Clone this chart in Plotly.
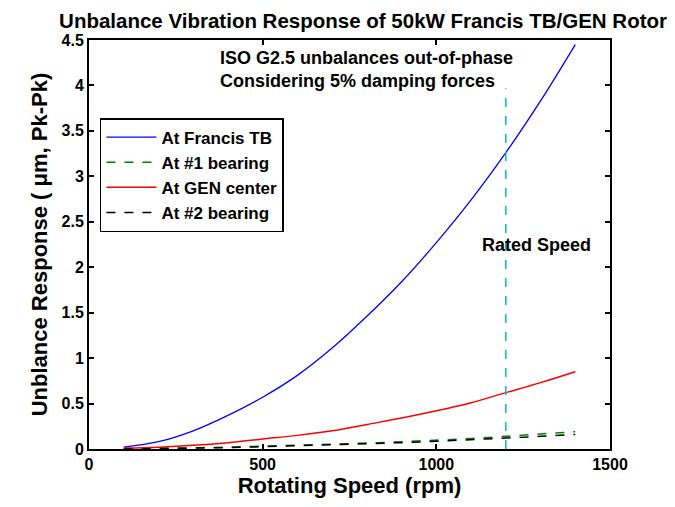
import plotly.graph_objects as go

rpm = [100, 200, 300, 400, 500, 600, 700, 800, 900, 1000, 1100, 1200, 1300, 1400]
francis_tb = [0.02, 0.08, 0.20, 0.37, 0.57, 0.81, 1.11, 1.46, 1.84, 2.27, 2.74, 3.26, 3.83, 4.45]
bearing1 = [0.00, 0.005, 0.01, 0.02, 0.03, 0.04, 0.05, 0.065, 0.08, 0.095, 0.115, 0.14, 0.165, 0.19]
gen_center = [0.01, 0.02, 0.04, 0.07, 0.11, 0.15, 0.20, 0.27, 0.34, 0.42, 0.51, 0.62, 0.73, 0.85]
bearing2 = [0.00, 0.004, 0.008, 0.015, 0.025, 0.035, 0.045, 0.057, 0.07, 0.085, 0.10, 0.12, 0.14, 0.16]

rated_speed = 1200
rated_line_y = [0, 3.97]

FONT = "Liberation Sans, Arial, sans-serif"

fig = go.Figure()
fig.add_trace(go.Scatter(x=rpm, y=francis_tb, mode="lines", name="At Francis TB",
                         line=dict(color="#0000ff", width=1.3, shape="spline")))
fig.add_trace(go.Scatter(x=rpm, y=bearing1, mode="lines", name="At #1 bearing",
                         line=dict(color="#008000", width=1.5, dash="dash")))
fig.add_trace(go.Scatter(x=rpm, y=gen_center, mode="lines", name="At GEN center",
                         line=dict(color="#ff0000", width=1.5, shape="spline")))
fig.add_trace(go.Scatter(x=rpm, y=bearing2, mode="lines", name="At #2 bearing",
                         line=dict(color="#000000", width=1.5, dash="dash")))
fig.add_trace(go.Scatter(x=[rated_speed, rated_speed], y=rated_line_y, mode="lines",
                         showlegend=False, line=dict(color="#00bfbf", width=1.5, dash="dash")))

axis_common = dict(showgrid=False, zeroline=False, showline=True, linecolor="black",
                   linewidth=2, mirror="ticks", ticks="inside", ticklen=5, tickwidth=1.5,
                   tickcolor="black",
                   tickfont=dict(family=FONT, size=16, color="black", weight="bold"))

fig.update_layout(
    width=675, height=507,
    margin=dict(l=81, r=73, t=32, b=66),
    paper_bgcolor="white", plot_bgcolor="white",
    title=dict(text="Unbalance Vibration Response of 50kW Francis TB/GEN Rotor",
               font=dict(family=FONT, size=20.5, color="black", weight="bold"),
               x=0.526, xanchor="center", y=0.974, yanchor="middle"),
    xaxis=dict(range=[0, 1500], tickvals=[0, 500, 1000, 1500],
               title=dict(text="Rotating Speed (rpm)", standoff=4,
                          font=dict(family=FONT, size=22, color="black", weight="bold")),
               **axis_common),
    yaxis=dict(range=[0, 4.5], tickvals=[0, 0.5, 1, 1.5, 2, 2.5, 3, 3.5, 4, 4.5],
               ticktext=["0", "0.5", "1", "1.5", "2", "2.5", "3", "3.5", "4", "4.5"],
               title=dict(text="Unblance Response ( \u03bcm, Pk-Pk)", standoff=8,
                          font=dict(family=FONT, size=22, color="black", weight="bold")),
               **axis_common),
    legend=dict(x=0.021, y=0.809, xanchor="left", yanchor="top",
                bgcolor="white", bordercolor="black", borderwidth=1.5,
                font=dict(family=FONT, size=17, color="black", weight="bold"),
                itemwidth=50),
    showlegend=True,
)

fig.add_annotation(x=371, y=4.43, xref="x", yref="y", xanchor="left", yanchor="top",
                   text="ISO G2.5 unbalances out-of-phase<br>Considering 5% damping forces",
                   showarrow=False, align="left",
                   font=dict(family=FONT, size=18, color="black", weight="bold"))
fig.add_annotation(x=1126, y=2.24, xref="x", yref="y", xanchor="left", yanchor="middle",
                   text="Rated Speed", showarrow=False,
                   font=dict(family=FONT, size=18, color="black", weight="bold"))

fig.write_html("out.html")
